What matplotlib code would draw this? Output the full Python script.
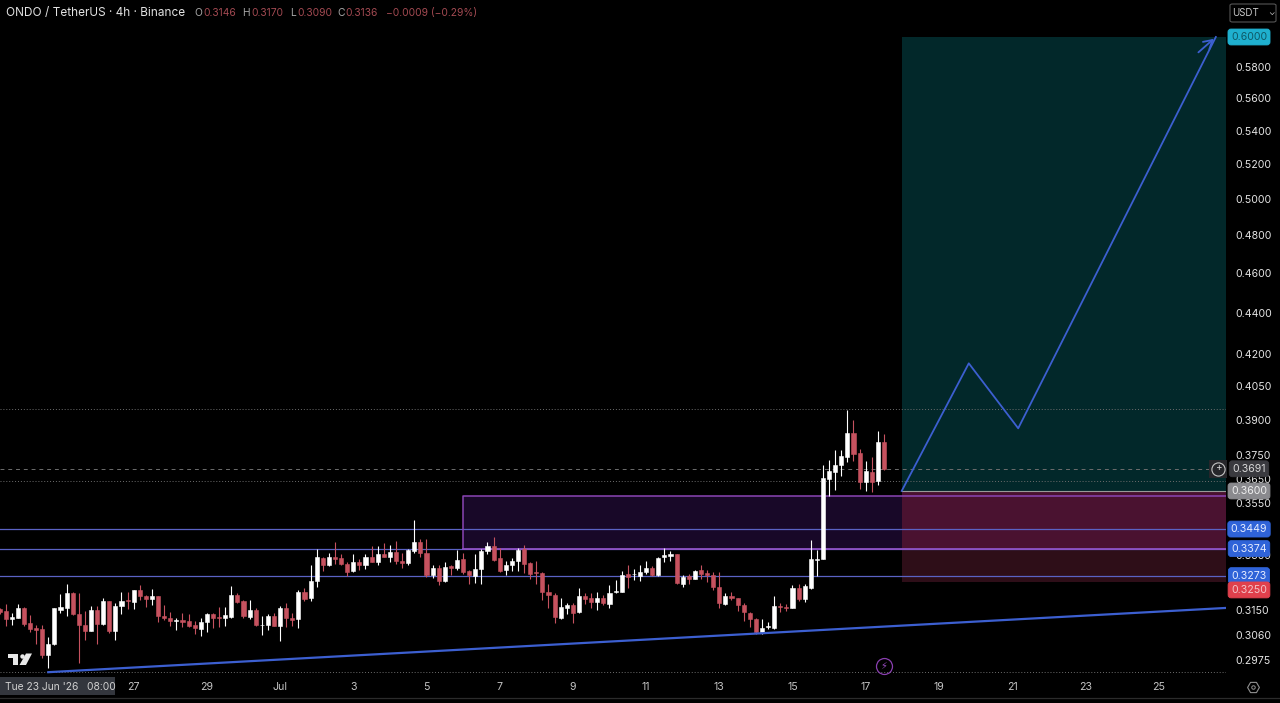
import matplotlib
matplotlib.use('Agg')
import numpy as np
import matplotlib.pyplot as plt
from matplotlib.lines import Line2D
from matplotlib.patches import FancyBboxPatch, Polygon, Circle, Rectangle
from matplotlib.ticker import FixedLocator, NullLocator, FuncFormatter

plt.rcParams['font.family'] = ['Inter', 'DejaVu Sans']

# 4h candles, left to right
opens = [.3151,.3144,.3118,.3122,.3157,.3102,.3084,.3083,.2994,.3029,
         .3150,.3157,.3210,.3136,.3097,.3075,.3150,.3100,.3181,.3075,
         .3163,.3185,.3179,.3221,.3200,.3189,.3198,.3129,.3122,.3111,
         .3115,.3109,.3096,.3083,.3107,.3134,.3125,.3120,.3124,.3203,
         .3182,.3124,.3150,.3096,.3097,.3129,.3093,.3157,.3122,.3116,
         .3214,.3190,.3253,.3340,.3313,.3341,.3337,.3315,.3289,.3323,
         .3311,.3341,.3325,.3355,.3343,.3363,.3329,.3318,.3364,.3401,
         .3359,.3274,.3301,.3252,.3309,.3301,.3335,.3289,.3272,.3296,
         .3365,.3384,.3337,.3292,.3312,.3326,.3374,.3320,.3286,.3284,
         .3215,.3202,.3120,.3157,.3166,.3140,.3197,.3190,.3178,.3191,
         .3171,.3212,.3215,.3279,.3278,.3271,.3286,.3301,.3274,.3341,
         .3347,.3352,.3244,.3271,.3260,.3295,.3283,.3277,.3232,.3171,
         .3200,.3192,.3168,.3139,.3118,.3072,.3090,.3087,.3164,.3161,
         .3157,.3229,.3188,.3229,.3332,.3336,.3648,.3676,.3705,.3740,
         .3842,.3756,.3637,.3676,.3640,.3803]
highs = [.3157,.3171,.3139,.3171,.3158,.3130,.3097,.3097,.3055,.3157,
         .3205,.3244,.3212,.3209,.3145,.3163,.3163,.3192,.3182,.3174,
         .3215,.3215,.3221,.3238,.3201,.3223,.3198,.3168,.3143,.3122,
         .3139,.3136,.3111,.3122,.3139,.3139,.3159,.3159,.3236,.3209,
         .3186,.3186,.3155,.3128,.3134,.3139,.3163,.3174,.3139,.3221,
         .3229,.3313,.3372,.3344,.3359,.3400,.3353,.3325,.3353,.3335,
         .3353,.3382,.3384,.3397,.3387,.3403,.3359,.3374,.3483,.3412,
         .3410,.3311,.3311,.3323,.3313,.3369,.3359,.3292,.3353,.3372,
         .3400,.3420,.3378,.3329,.3337,.3378,.3387,.3323,.3329,.3286,
         .3244,.3209,.3192,.3174,.3174,.3226,.3209,.3209,.3212,.3203,
         .3238,.3256,.3289,.3311,.3296,.3311,.3328,.3308,.3344,.3378,
         .3365,.3353,.3274,.3280,.3292,.3313,.3292,.3286,.3286,.3209,
         .3215,.3192,.3174,.3141,.3122,.3116,.3105,.3197,.3174,.3171,
         .3238,.3244,.3244,.3405,.3367,.3705,.3729,.3771,.3768,.3945,
         .3898,.3776,.3722,.3740,.3851,.3840]
lows = [.3134,.3094,.3096,.3120,.3094,.3072,.3030,.2983,.2951,.3027,
        .3137,.3128,.3130,.2968,.3044,.3074,.3030,.3097,.3068,.3044,
        .3136,.3151,.3151,.3186,.3159,.3166,.3105,.3113,.3091,.3077,
        .3088,.3088,.3066,.3057,.3072,.3086,.3088,.3091,.3122,.3174,
        .3122,.3116,.3094,.3060,.3077,.3091,.3041,.3088,.3094,.3086,
        .3180,.3180,.3232,.3289,.3308,.3317,.3311,.3272,.3288,.3292,
        .3296,.3322,.3311,.3341,.3323,.3317,.3301,.3313,.3359,.3344,
        .3268,.3265,.3238,.3250,.3274,.3292,.3280,.3244,.3247,.3241,
        .3353,.3329,.3286,.3274,.3289,.3289,.3283,.3260,.3244,.3186,
        .3157,.3102,.3116,.3136,.3102,.3138,.3171,.3155,.3148,.3168,
        .3157,.3209,.3212,.3229,.3256,.3255,.3280,.3272,.3273,.3325,
        .3329,.3244,.3230,.3244,.3259,.3262,.3250,.3221,.3155,.3168,
        .3186,.3145,.3109,.3088,.3066,.3066,.3083,.3083,.3141,.3145,
        .3156,.3182,.3177,.3225,.3271,.3335,.3580,.3606,.3660,.3719,
        .3723,.3610,.3601,.3597,.3624,.3688]
closes = [.3143,.3116,.3125,.3157,.3099,.3082,.3079,.2994,.3030,.3155,
          .3160,.3208,.3134,.3097,.3075,.3150,.3100,.3181,.3075,.3163,
          .3180,.3180,.3219,.3200,.3189,.3199,.3127,.3120,.3109,.3115,
          .3106,.3092,.3084,.3106,.3134,.3122,.3120,.3131,.3201,.3177,
          .3128,.3150,.3097,.3097,.3128,.3092,.3157,.3122,.3113,.3212,
          .3188,.3255,.3341,.3311,.3344,.3335,.3315,.3286,.3323,.3311,
          .3341,.3323,.3355,.3343,.3363,.3329,.3318,.3368,.3401,.3357,
          .3274,.3301,.3252,.3305,.3301,.3332,.3286,.3274,.3297,.3364,
          .3382,.3332,.3289,.3313,.3328,.3370,.3317,.3280,.3284,.3215,
          .3201,.3123,.3160,.3166,.3139,.3197,.3188,.3178,.3190,.3175,
          .3211,.3216,.3277,.3269,.3280,.3286,.3300,.3277,.3340,.3349,
          .3352,.3245,.3268,.3260,.3290,.3279,.3274,.3230,.3172,.3199,
          .3190,.3165,.3141,.3116,.3072,.3087,.3092,.3163,.3161,.3155,
          .3229,.3188,.3236,.3333,.3336,.3652,.3680,.3705,.3743,.3842,
          .3751,.3637,.3680,.3637,.3803,.3689]

# levels on the price scale
level_prices = [0.3449, 0.3374, 0.3273]
dotted_prices = [0.3947, 0.3639, 0.2936]
last_price = 0.3689
zone_low, zone_high = 0.3374, 0.3578
zone_start = 76
entry, target, stop = 0.36, 0.60, 0.325
box_start, box_end = 147.9, 201
path_bars = [147.9, 158.9, 167, 199.4]
path_prices = [0.36, 0.4156, 0.3863, 0.60]
trend_bars = [8, 201]
trend_prices = [0.2936, 0.3156]

price_ticks = [0.58, 0.56, 0.54, 0.52, 0.50, 0.48, 0.46, 0.44, 0.42, 0.405, 0.39,
               0.375, 0.365, 0.355, 0.335, 0.315, 0.306, 0.2975]
date_bars = [22, 34, 46, 58, 70, 82, 94, 106, 118, 130, 142, 154, 166, 178, 190]
date_labels = ['27', '29', 'Jul', '3', '5', '7', '9', '11', '13', '15', '17', '19', '21', '23', '25']

W, H = 1280, 703
BLUE = '#3c5fd0'
LEVEL = '#5a62c4'
RED = '#c6525f'

fig = plt.figure(figsize=(W / 100, H / 100), dpi=100, facecolor='black')
ax = fig.add_axes([0, 1 - 674 / H, 1226 / W, 674 / H], facecolor='black')
ax.set_yscale('log')
ax.set_xlim(0.5 / 6.1, 1226.5 / 6.1)
ax.set_ylim(0.2930, 0.6255)

# target / stop boxes and supply zone
ax.fill_between([box_start, box_end], entry, target, color='#02282a', lw=0, zorder=1)
ax.fill_between([box_start, box_end], zone_low, entry, color='#4a1230', lw=0, zorder=1)
ax.fill_between([box_start, box_end], stop, zone_low, color='#2e0e18', lw=0, zorder=1.1)
ax.fill_between([zone_start, box_start], zone_low, zone_high, color='#180828', lw=0, zorder=1.1)
ax.plot([zone_start, zone_start, box_end], [zone_low, zone_high, zone_high], color='#8a45b4', lw=1.1, zorder=1.5)
ax.plot([zone_start, box_end], [zone_low, zone_low], color='#8f52c4', lw=1.3, zorder=1.5)
ax.plot([box_start, box_end], [entry, entry], color='#9a9a9a', lw=0.8, zorder=1.5)

for p in level_prices:
    ax.axhline(p, color=LEVEL, lw=0.9, zorder=1.4)
for p in dotted_prices:
    ax.axhline(p, color='#6d6d6d', lw=0.7, ls=(0, (1, 2)), zorder=1.3)
ax.axhline(last_price, color='#6d6d6d', lw=0.7, ls=(0, (4, 4)), zorder=1.3)

# candles
bars = np.arange(len(opens))
o = np.array(opens)
c = np.array(closes)
colors = np.where(c >= o, 'white', RED)
ax.vlines(bars, lows, highs, colors=colors, lw=0.8, zorder=3)
ax.bar(bars, np.abs(c - o), bottom=np.minimum(o, c), width=0.68, color=colors,
       edgecolor=colors, lw=0.4, zorder=4)

# trend line and projected path
ax.plot(trend_bars, trend_prices, color=BLUE, lw=1.6, zorder=5)
ax.plot(path_bars, path_prices, color=BLUE, lw=1.3, zorder=5)
ax.annotate('', xy=(path_bars[-1], path_prices[-1]), xytext=(path_bars[-1] - 3.2, 0.5885),
            arrowprops=dict(arrowstyle='->,head_length=0.6,head_width=0.35', color=BLUE, lw=1.3), zorder=5)

# axes
ax.yaxis.tick_right()
ax.yaxis.set_major_locator(FixedLocator(price_ticks))
ax.yaxis.set_minor_locator(NullLocator())
ax.yaxis.set_major_formatter(FuncFormatter(lambda v, _: '%.4f' % v))
ax.tick_params(axis='y', which='both', length=0, pad=7, labelsize=7.6, labelcolor='#e4e4e4')
ax.set_xticks(date_bars)
ax.set_xticklabels(date_labels)
ax.tick_params(axis='x', length=0, pad=6, labelsize=7.6, labelcolor='#c4c4c4')
for s in ax.spines.values():
    s.set_visible(False)


def tag(price, fill, txt='white', drop=0):
    ax.annotate('%.4f' % price, xy=(1249 / 1226, price), xycoords=ax.get_yaxis_transform(),
                xytext=(0, drop), textcoords='offset points', ha='center', va='center',
                fontsize=7.6, color=txt, zorder=10, annotation_clip=False,
                bbox=dict(boxstyle='round,pad=0.28', fc=fill, ec=fill, lw=0.6))


tag(target, '#1fb0cf', '#0e5866')
tag(last_price + 0.0002, '#3a3a3f', '#d8d8d8')
tag(entry, '#8a8a8e', '#eeeeee')
for p in level_prices:
    tag(p, '#2f63d8', '#e6ecff')
tag(stop, '#e0404c', '#f3c4c8', drop=-5.8)


def ftext(x, y, s, **kw):
    return fig.text(x / W, 1 - y / H, s, va='center', **kw)


def px(x, y):
    return x / W, 1 - y / H


# header
ftext(6, 13, 'ONDO / TetherUS · 4h · Binance', fontsize=8.5, color='#e2e2e2')
header_parts = [(194, 'O', '#a8a8a8'), (203, '0.3146', '#a34a52'),
                (242, 'H', '#a8a8a8'), (251, '0.3170', '#a34a52'),
                (290, 'L', '#a8a8a8'), (297, '0.3090', '#a34a52'),
                (337, 'C', '#a8a8a8'), (345, '0.3136', '#a34a52'),
                (386, '−0.0009 (−0.29%)', '#a34a52')]
for x, s, col in header_parts:
    ftext(x, 13, s, fontsize=7.4, color=col)

# USDT selector
fig.add_artist(FancyBboxPatch(px(1230, 22), 46 / W, 18 / H,
                              boxstyle='round,pad=0,rounding_size=0.002', transform=fig.transFigure,
                              fc='black', ec='#555555', lw=0.8))
ftext(1232, 13.5, 'USDT', fontsize=7, color='#c8c8c8')
ftext(1268, 12, '⌄', fontsize=6, color='#c8c8c8')

# crosshair date
fig.add_artist(Rectangle(px(0, 695), 115 / W, 18 / H, transform=fig.transFigure, fc='#33363d', ec='none'))
ftext(5, 687, "Tue 23 Jun '26   08:00", fontsize=7.4, color='#d0d0d0')

# tradingview logo
logo = '#e8e8e8'
fig.add_artist(Polygon([px(8, 653.5), px(18, 653.5), px(18, 665), px(13, 665), px(13, 658), px(8, 658)],
                       transform=fig.transFigure, fc=logo, ec='none'))
fig.add_artist(Polygon([px(26, 653.5), px(32, 653.5), px(26, 665), px(19.5, 665)],
                       transform=fig.transFigure, fc=logo, ec='none'))
fig.add_artist(Line2D(*zip(px(21.5, 656)), marker='o', ms=3.2, mfc=logo, mec='none', transform=fig.transFigure))

# small icons
fig.add_artist(Line2D(*zip(px(884, 666)), marker='o', ms=11.5, mfc='none', mec='#8a3fb0', mew=0.9,
                      transform=fig.transFigure))
fig.text(*px(884, 666), '⚡', ha='center', va='center', fontsize=7, color='#9a4cc4', family='DejaVu Sans')
fig.add_artist(Rectangle(px(1209, 478), 18 / W, 18 / H, transform=fig.transFigure, fc='#26262a', ec='none',
                         zorder=11))
fig.add_artist(Line2D(*zip(px(1218, 468.5)), marker='o', ms=9.5, mfc='none', mec='#c4c4c4', mew=0.8,
                      transform=fig.transFigure, zorder=12))
fig.text(*px(1218, 468.5), '+', ha='center', va='center', fontsize=7, color='#d0d0d0', zorder=13)
fig.add_artist(Line2D(*zip(px(1253, 687)), marker='H', ms=8.5, mfc='none', mec='#909090', mew=0.8,
                      transform=fig.transFigure))
fig.add_artist(Line2D(*zip(px(1253, 687)), marker='o', ms=2.5, mfc='none', mec='#909090', mew=0.7,
                      transform=fig.transFigure))
fig.add_artist(Line2D([0, 1], [1 - 697.5 / H] * 2, color='#2b2b2b', lw=0.9, transform=fig.transFigure))

fig.savefig('out.png', dpi=100, facecolor='black')
